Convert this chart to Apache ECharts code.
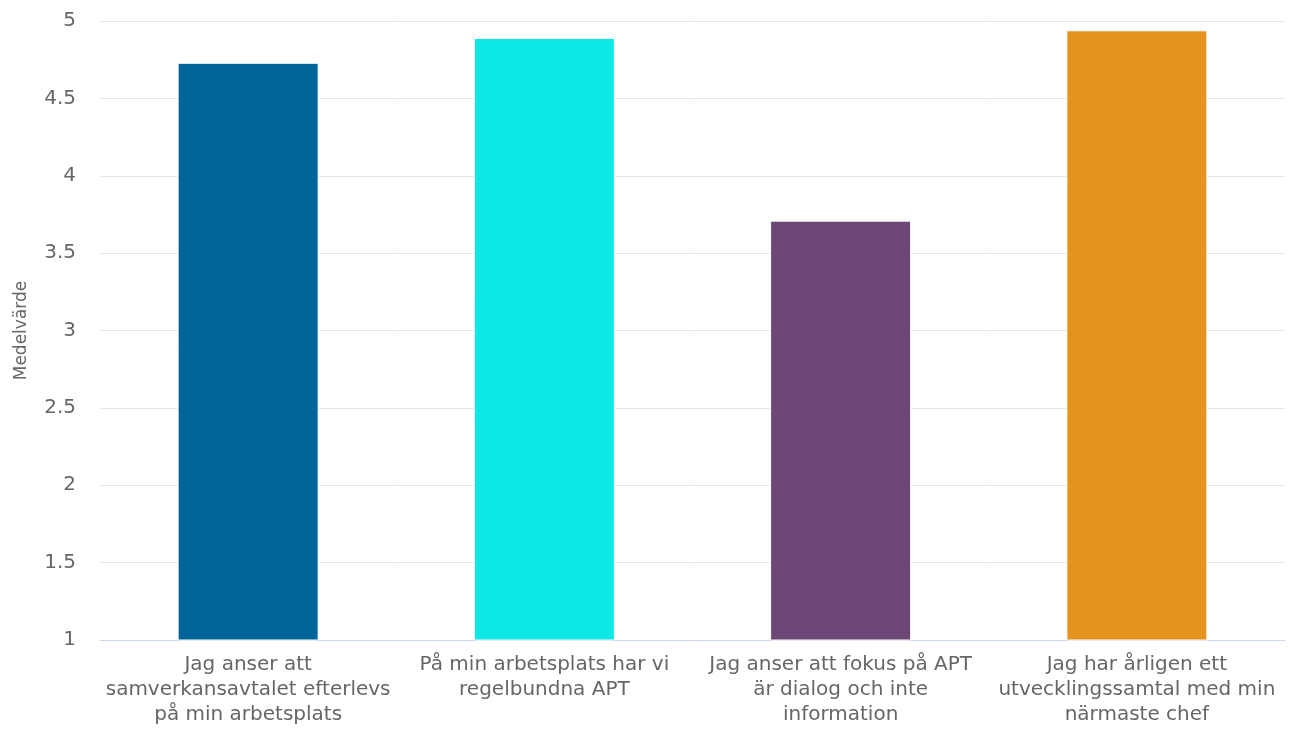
<!DOCTYPE html>
<html>
<head>
<meta charset="utf-8">
<script src="https://cdn.jsdelivr.net/npm/echarts@6/dist/echarts.min.js"></script>
<style>
html,body{margin:0;padding:0;background:#fff;}
#chart{width:1292px;height:731px;}
</style>
</head>
<body>
<div id="chart"></div>
<script>
const categories = [
  "Jag anser att\nsamverkansavtalet efterlevs\npå min arbetsplats",
  "På min arbetsplats har vi\nregelbundna APT",
  "Jag anser att fokus på APT\när dialog och inte\ninformation",
  "Jag har årligen ett\nutvecklingssamtal med min\nnärmaste chef"
];
const values = [4.73, 4.89, 3.71, 4.94];
const barColors = ["#006699", "#0ae8e8", "#6c4674", "#e59320"];
const yTicks = { min: 1, max: 5, interval: 0.5 };
const yName = "Medelvärde";

const chart = echarts.init(document.getElementById('chart'));
const font = "DejaVu Sans";
chart.setOption({
  animation: false,
  textStyle: { fontFamily: font },
  grid: { left: 100, right: 7, top: 21, bottom: 91 },
  xAxis: {
    type: 'category',
    data: categories,
    axisLine: { lineStyle: { color: '#ccd6eb' } },
    axisTick: { show: false },
    axisLabel: { color: '#666', fontSize: 20, lineHeight: 25, margin: 12, fontFamily: font, interval: 0 }
  },
  yAxis: {
    type: 'value',
    min: yTicks.min, max: yTicks.max, interval: yTicks.interval,
    name: yName,
    nameLocation: 'middle',
    nameGap: 70,
    nameTextStyle: { color: '#666', fontSize: 17, fontFamily: font },
    axisLine: { show: false },
    axisTick: { show: false },
    splitLine: { lineStyle: { color: '#e6e6e6' } },
    axisLabel: { color: '#666', fontSize: 20, margin: 24, fontFamily: font }
  },
  series: [{
    type: 'bar',
    data: values.map((v, i) => ({ value: v, itemStyle: { color: barColors[i] } })),
    barWidth: '47.6%',
    itemStyle: { borderColor: '#fff', borderWidth: 1 }
  }]
});
</script>
</body>
</html>
